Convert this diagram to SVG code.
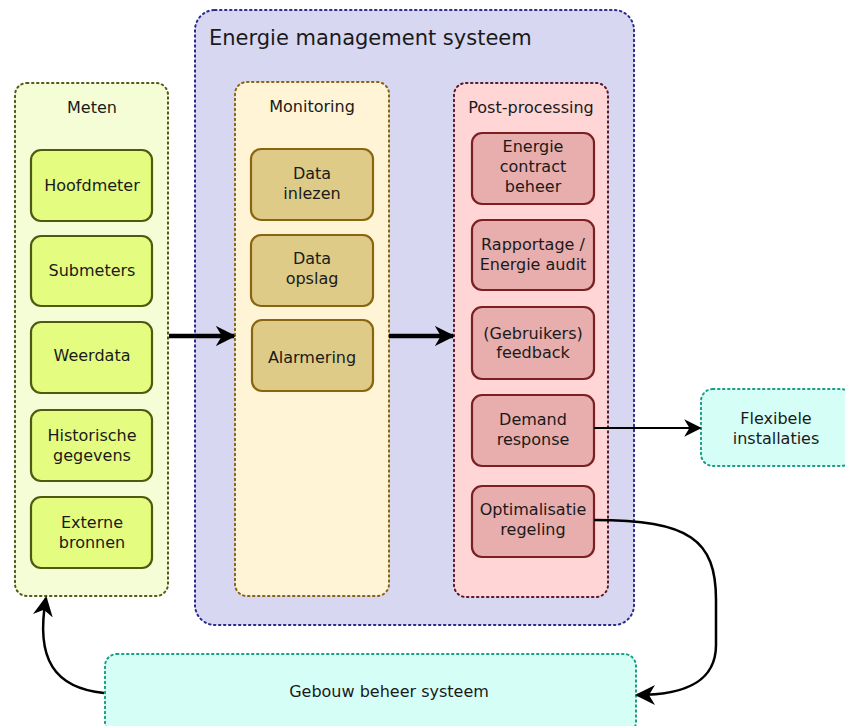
<svg xmlns="http://www.w3.org/2000/svg" width="845" height="726" viewBox="0 0 845 726">
<style>
text{font-family:"DejaVu Sans","Liberation Sans",sans-serif;fill:#1a1a1a;text-anchor:middle;font-size:16px}
.grp{stroke-width:2;stroke-dasharray:1.5 3.5;stroke-linecap:round}
.g{fill:#e4fd80;stroke:#4f5a10;stroke-width:2.2}
.t{fill:#decb88;stroke:#8a6510;stroke-width:2.2}
.r{fill:#e8adad;stroke:#7a1f22;stroke-width:2.2}
.c{fill:none;stroke:#000}
</style>
<defs>
<marker id="ah" viewBox="0 0 10 10" refX="9" refY="5" markerWidth="4.5" markerHeight="4.5" orient="auto" markerUnits="strokeWidth">
<path d="M0,0 L10,5 L0,10 L3,5 Z" fill="#000"/>
</marker>
<marker id="ah2" viewBox="0 0 10 10" refX="9" refY="5" markerWidth="8" markerHeight="8" orient="auto" markerUnits="strokeWidth">
<path d="M0,0 L10,5 L0,10 L3,5 Z" fill="#000"/>
</marker>
</defs>
<g id="ems">
<rect x="195" y="10" width="439" height="615" rx="20" fill="#d7d7f2" stroke="#2a2a90" class="grp"/>
<text x="209" y="45" style="font-size:21px;text-anchor:start">Energie management systeem</text>
</g>
<g id="meten">
<rect x="15" y="83" width="153" height="513" rx="12" fill="#f4fdd6" stroke="#555a10" class="grp"/>
<text x="92" y="113">Meten</text>
</g>
<g id="monitoring">
<rect x="235" y="82" width="154" height="514" rx="12" fill="#fff4d5" stroke="#8a6510" class="grp"/>
<text x="312" y="112">Monitoring</text>
</g>
<g id="postprocessing">
<rect x="454" y="83" width="154" height="514" rx="12" fill="#ffd5d5" stroke="#5a1a2a" class="grp"/>
<text x="531" y="113">Post-processing</text>
</g>
<g id="hoofdmeter"><rect class="g" x="31" y="150" width="121" height="71" rx="10"/><text x="92" y="191">Hoofdmeter</text></g>
<g id="submeters"><rect class="g" x="31" y="236" width="121" height="70" rx="10"/><text x="92" y="276">Submeters</text></g>
<g id="weerdata"><rect class="g" x="31" y="322" width="121" height="71" rx="10"/><text x="92" y="361">Weerdata</text></g>
<g id="historische"><rect class="g" x="31" y="410" width="121" height="71" rx="10"/><text x="92" y="441">Historische</text><text x="92" y="461">gegevens</text></g>
<g id="externe"><rect class="g" x="31" y="497" width="121" height="71" rx="10"/><text x="92" y="528">Externe</text><text x="92" y="548">bronnen</text></g>
<g id="datainlezen"><rect class="t" x="251" y="149" width="122" height="71" rx="10"/><text x="312" y="179">Data</text><text x="312" y="199">inlezen</text></g>
<g id="dataopslag"><rect class="t" x="251" y="235" width="122" height="71" rx="10"/><text x="312" y="264">Data</text><text x="312" y="284">opslag</text></g>
<g id="alarmering"><rect class="t" x="252" y="320" width="121" height="71" rx="10"/><text x="312" y="363">Alarmering</text></g>
<g id="energiecontract"><rect class="r" x="472" y="133" width="122" height="71" rx="10"/><text x="533" y="152">Energie</text><text x="533" y="172">contract</text><text x="533" y="192">beheer</text></g>
<g id="rapportage"><rect class="r" x="472" y="220" width="122" height="70" rx="10"/><text x="533" y="250">Rapportage /</text><text x="533" y="270">Energie audit</text></g>
<g id="feedback"><rect class="r" x="472" y="307" width="122" height="72" rx="10"/><text x="533" y="339">(Gebruikers)</text><text x="533" y="358">feedback</text></g>
<g id="demand"><rect class="r" x="472" y="395" width="122" height="71" rx="10"/><text x="533" y="425">Demand</text><text x="533" y="445">response</text></g>
<g id="optimalisatie"><rect class="r" x="472" y="486" width="122" height="71" rx="10"/><text x="533" y="515">Optimalisatie</text><text x="533" y="535">regeling</text></g>
<g id="flexibele">
<rect x="701" y="389" width="152" height="77" rx="12" fill="#d5fff6" stroke="#16a085" class="grp"/>
<text x="776" y="424">Flexibele</text><text x="776" y="444">installaties</text>
</g>
<g id="gebouw">
<rect x="105" y="654" width="531" height="80" rx="12" fill="#d5fff6" stroke="#16a085" class="grp"/>
<text x="389" y="697">Gebouw beheer systeem</text>
</g>
<g id="connectors">
<path class="c" d="M169,336 L234,336" stroke-width="4.5" marker-end="url(#ah)"/>
<path class="c" d="M389,336 L453,336" stroke-width="4.5" marker-end="url(#ah)"/>
<path class="c" d="M594,428 L700,428" stroke-width="2.2" marker-end="url(#ah2)"/>
<path class="c" d="M594,520 C690,520 716,540 716,600 L716,645 C716,682 685,695 637,695" stroke-width="2.5" marker-end="url(#ah2)"/>
<path class="c" d="M104,693 C55,688 35,660 46,598" stroke-width="2.5" marker-end="url(#ah2)"/>
</g>
</svg>
